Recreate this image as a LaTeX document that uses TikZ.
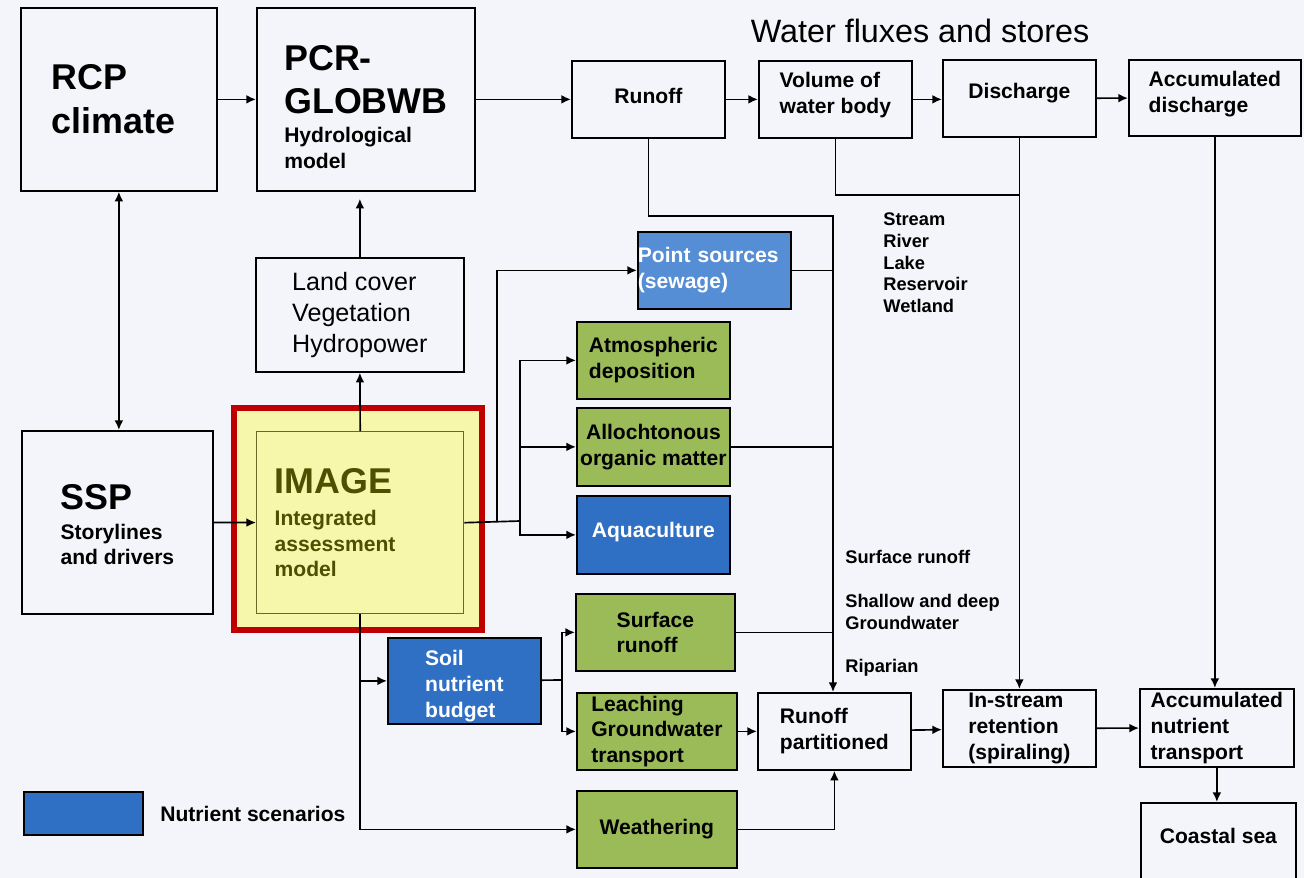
\documentclass[tikz,border=0pt]{standalone}
\usepackage{fontspec}
\setmainfont{Liberation Sans}
\usetikzlibrary{arrows.meta}
\definecolor{PageGrey}{HTML}{F4F5FA}
\definecolor{NutrGreen}{HTML}{9BBB59}
\definecolor{NutrBlue}{HTML}{3070C4}
\definecolor{PointBlue}{HTML}{558ED5}
\definecolor{ImageYellow}{HTML}{F7F7AB}
\definecolor{ImageRed}{HTML}{C00000}
\definecolor{ImageOlive}{HTML}{4F4F00}
\newcommand\bigf{\fontsize{20.4}{25}\selectfont\bfseries}
\newcommand\boxf{\fontsize{12}{14.7}\selectfont\bfseries}
\newcommand\smallf{\fontsize{10.4}{12.5}\selectfont\bfseries}

\begin{document}
\begin{tikzpicture}[x=0.02cm,y=-0.02cm,
   box/.style={draw,line width=1pt,anchor=north west,inner sep=0pt,align=left,font=\boxf},
   wh/.style 2 args={minimum width=#1*0.02cm,minimum height=#2*0.02cm},
   lift/.style={text depth=#1},
   nutbox/.style={box,fill=NutrGreen},
   scenbox/.style={box,fill=NutrBlue,text=white},
   lbl/.style={anchor=north west,inner sep=0pt,align=left,font=\smallf},
   line/.style={line width=0.95pt},
   arr/.style={line,-{Latex[length=5.5pt,width=5pt]}},
   biarr/.style={line,{Latex[length=5.5pt,width=5pt]}-{Latex[length=5.5pt,width=5pt]}}]
   \useasboundingbox (0,0) rectangle (1304,878);
   \fill[PageGrey] (0,0) rectangle (1304,878);

   \node[box,wh={196}{183},font=\bigf,text width=2.68cm,inner xsep=0.62cm] (rcp) at (20,7) {RCP\\climate};
   \node[box,wh={218}{183}] (pcr) at (256,7) {{\bigf\rule{0pt}{23pt}PCR-}\\[9.7pt]{\bigf GLOBWB}\\[1.8pt]Hydrological\\model};
   \node[box,wh={208}{114},font=\fontsize{14.3}{17.5}\selectfont] (land) at (255,257) {Land cover\\Vegetation\\Hydropower};
   \node[draw=ImageRed,line width=3.6pt,fill=ImageYellow,anchor=north west,inner sep=0pt,wh={248}{222}] (imgframe) at (231,405) {};
   \node[box,wh={207}{182},draw=ImageOlive!85,line width=0.8pt,text=ImageOlive,text width=3.42cm,inner xsep=0.36cm] (img) at (256,431) {{\bigf IMAGE}\\[3.5pt]Integrated\\assessment\\model};
   \node[box,wh={191}{183}] (ssp) at (21,430) {{\bigf\rule{0pt}{17pt}SSP}\\[2.2pt]Storylines\\and drivers};
   \node[box,fill=NutrBlue,wh={119}{43}] (legend) at (23,791) {};
   \node[anchor=base west,inner sep=0pt,font=\boxf] (legendtext) at (160,821) {Nutrient scenarios};

   \node[anchor=base,inner sep=0pt,font=\fontsize{18.4}{22}\selectfont] (title) at (920,43) {Water fluxes and stores};
   \node[box,wh={153}{77},lift=4.5pt] (runoff) at (571,60) {Runoff};
   \node[box,wh={153}{77},lift=7pt] (volume) at (758,60) {Volume of\\water body};
   \node[box,wh={153}{77},lift=8pt] (discharge) at (942,59) {Discharge};
   \node[box,wh={172}{76},lift=7pt] (accdis) at (1128,59) {Accumulated\\discharge};

   \node[box,fill=PointBlue,text=white,wh={153}{77},text width=3.06cm] (point) at (637,231) {Point sources\\(sewage)};
   \node[nutbox,wh={153}{77}] (atmos) at (576,321) {Atmospheric\\deposition};
   \node[nutbox,wh={153}{78},align=center] (alloch) at (576,407) {Allochtonous\\organic matter};
   \node[scenbox,wh={153}{78},lift=6pt] (aqua) at (576,495) {Aquaculture};
   \node[nutbox,wh={159}{77}] (surf) at (575,593) {Surface\\runoff};
   \node[scenbox,wh={153}{86}] (soil) at (387,637) {\rule{0pt}{14.5pt}Soil\\nutrient\\budget};
   \node[nutbox,wh={160}{77}] (leach) at (576,692) {Leaching\\Groundwater\\transport};
   \node[nutbox,wh={160}{77}] (weath) at (576,790) {Weathering};
   \node[box,wh={153}{77}] (rpart) at (757,692) {Runoff\\partitioned};
   \node[box,wh={153}{77}] (instream) at (942,689) {In-stream\\retention\\(spiraling)};
   \node[box,wh={154}{78}] (accnut) at (1139,688) {Accumulated\\nutrient\\transport};
   \node[box,minimum width=155*0.02cm,text height=23pt,text depth=40pt] (coast) at (1140,802) {Coastal sea};

   \node[lbl] (waterbodies) at (883,212) {Stream\\River\\Lake\\Reservoir\\Wetland};
   \node[lbl] (surflbl) at (845,550) {Surface runoff};
   \node[lbl] (gwlbl) at (845,594) {Shallow and deep\\Groundwater};
   \node[lbl] (riplbl) at (845,659) {Riparian};

   \coordinate (split) at (497,521);
   \coordinate (fork) at (520,521);
   \coordinate (collect) at (833,216);
   \coordinate (vjoin) at (1019,195);
   \coordinate (soilfork) at (562,680);

   \draw[arr] (rcp) -- (pcr);
   \draw[arr] (pcr) -- (runoff);
   \draw[arr] (runoff) -- (volume);
   \draw[arr] (volume.east) -- (volume.east -| discharge.west);
   \draw[arr] (discharge) -- (accdis);
   \draw[biarr] (rcp.south) -- (rcp.south |- ssp.north);
   \draw[arr,shorten >=4pt] (land.north) -- (land.north |- pcr.south);
   \draw[arr] (img.north) -- (land.south);
   \draw[arr] (ssp) -- (img);
   \draw[line] (img.east) -- (fork);
   \draw[arr] (split) |- (point);
   \draw[arr] (fork) |- (atmos);
   \draw[arr] (fork) |- (alloch);
   \draw[arr] (fork) |- (aqua);
   \draw[arr] (runoff.south) |- (collect) -- (collect |- rpart.north);
   \draw[line] (point) -- (point -| collect);
   \draw[line] (alloch) -- (alloch -| collect);
   \draw[line] (surf) -- (surf -| collect);
   \draw[arr] (weath) -| (rpart);
   \draw[line] (volume.south) |- (vjoin);
   \draw[arr] (discharge) -- (instream);
   \draw[arr] (accdis.south) -- (accdis.south |- accnut.north);
   \draw[line] (soil) -- (soilfork);
   \draw[arr] (soilfork) |- (surf);
   \draw[arr] (soilfork) |- (leach);
   \draw[arr] (leach) -- (rpart);
   \draw[arr] (rpart) -- (instream);
   \draw[arr] (instream) -- (accnut);
   \draw[arr] (accnut.south) -- (accnut.south |- coast.north);
   \draw[arr] (img.south) |- (weath);
   \draw[arr] (img.south |- soil.west) -- (soil);
\end{tikzpicture}
\end{document}
